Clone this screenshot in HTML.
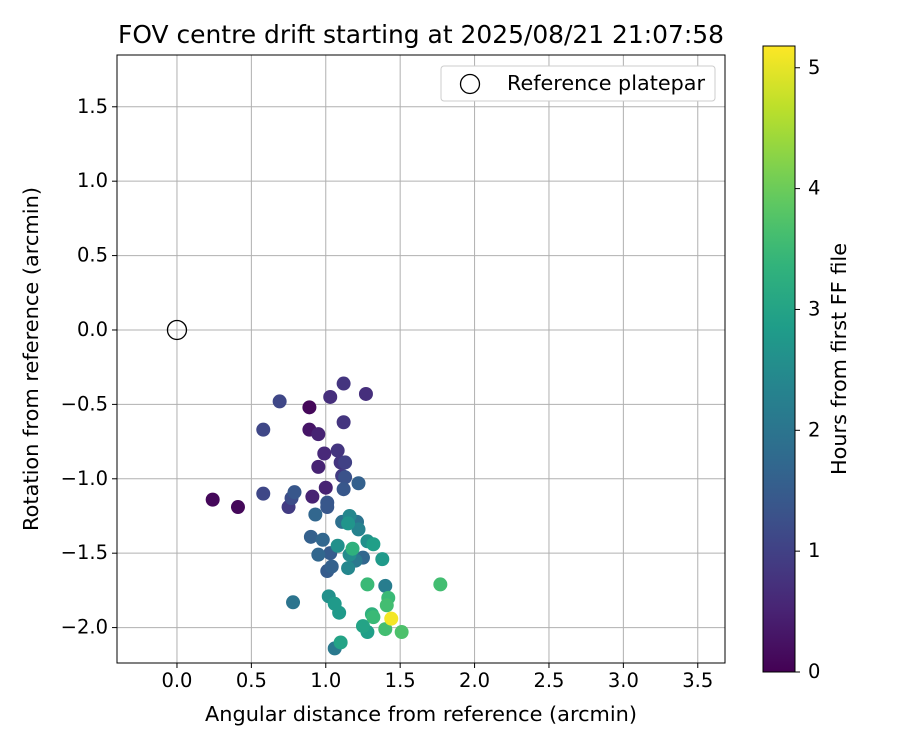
<!DOCTYPE html>
<html><head><meta charset="utf-8"><style>
body{margin:0;background:#fff;}
svg text{font-family:"DejaVu Sans","Liberation Sans",sans-serif;fill:#000;}
</style></head><body>
<svg id="chart" width="900" height="750" xmlns="http://www.w3.org/2000/svg">
<rect width="900" height="750" fill="#fff"/>
<g id="grid"></g>
<g id="points"></g>
<rect x="117" y="55" width="608" height="608" fill="none" stroke="#000" stroke-width="1"/>
<g id="xticks"></g>
<g id="yticks"></g>
<text x="421" y="43" font-size="25" text-anchor="middle" textLength="606" lengthAdjust="spacingAndGlyphs">FOV centre drift starting at 2025/08/21 21:07:58</text>
<text x="421" y="721" font-size="20.5" text-anchor="middle" textLength="432" lengthAdjust="spacingAndGlyphs">Angular distance from reference (arcmin)</text>
<text transform="translate(38,359) rotate(-90)" font-size="20.5" text-anchor="middle" textLength="344" lengthAdjust="spacingAndGlyphs">Rotation from reference (arcmin)</text>
<g>
<rect x="441" y="66" width="274" height="35" rx="3" fill="#fff" stroke="#ccc"/>
<circle cx="470" cy="84" r="9.5" fill="none" stroke="#000" stroke-width="1.3"/>
<text x="507" y="90" font-size="20.5" textLength="198" lengthAdjust="spacingAndGlyphs">Reference platepar</text>
</g>
<defs><linearGradient id="vir" x1="0" y1="1" x2="0" y2="0"></linearGradient></defs>
<rect x="763" y="46" width="32" height="626" fill="url(#vir)" stroke="#000" stroke-width="1"/>
<g id="cticks"></g>
<text transform="translate(846,359) rotate(-90)" font-size="20.5" text-anchor="middle" textLength="232" lengthAdjust="spacingAndGlyphs">Hours from first FF file</text>
</svg>
<script>
const xVals=[1.12,1.03,1.27,0.69,0.89,0.58,1.12,0.89,0.95,0.99,1.08,1.13,1.10,0.95,1.11,1.13,1.22,1.00,1.12,0.24,0.41,0.58,0.79,0.77,0.75,0.91,1.01,1.01,0.93,1.16,1.11,1.21,1.15,1.22,0.90,0.98,1.08,1.18,1.28,1.32,0.95,1.03,1.16,1.25,1.20,1.38,1.04,1.01,1.15,1.28,1.40,1.77,1.42,1.41,0.78,1.02,1.06,1.09,1.31,1.32,1.44,1.25,1.28,1.40,1.51,1.06,1.10];
const yVals=[-0.36,-0.45,-0.43,-0.48,-0.52,-0.67,-0.62,-0.67,-0.70,-0.83,-0.81,-0.89,-0.89,-0.92,-0.98,-0.99,-1.03,-1.06,-1.07,-1.14,-1.19,-1.10,-1.09,-1.13,-1.19,-1.12,-1.16,-1.19,-1.24,-1.25,-1.29,-1.29,-1.30,-1.34,-1.39,-1.41,-1.45,-1.47,-1.42,-1.44,-1.51,-1.50,-1.51,-1.53,-1.55,-1.54,-1.59,-1.62,-1.60,-1.71,-1.72,-1.71,-1.80,-1.85,-1.83,-1.79,-1.84,-1.90,-1.91,-1.93,-1.94,-1.99,-2.03,-2.01,-2.03,-2.14,-2.10];
const hours=[0.8,0.7,0.7,1.1,0.1,1.1,0.8,0.3,0.5,0.6,0.8,1.0,0.8,0.5,0.9,1.3,1.6,0.5,1.4,0.1,0.1,1.1,1.4,1.2,0.9,0.5,1.4,1.4,1.7,2.4,1.9,2.0,2.7,2.3,1.6,1.7,2.6,3.3,2.6,2.9,1.7,1.5,2.5,1.7,2.1,2.8,1.6,1.5,2.4,3.5,2.2,3.6,3.5,3.6,2.0,2.6,2.8,2.8,3.3,3.5,5.1,3.0,2.9,3.6,3.7,2.1,3.0];
const xTicks=[0.0,0.5,1.0,1.5,2.0,2.5,3.0,3.5];
const yTicks=[-2.0,-1.5,-1.0,-0.5,0.0,0.5,1.0,1.5];
const cTicks=[0,1,2,3,4,5];
const X0=117,X1=725,Y0=55,Y1=663,xMin=-0.403,xMax=3.683,yMin=-2.238,yMax=1.848,cMax=5.18;
const sx=v=>X0+(v-xMin)/(xMax-xMin)*(X1-X0);
const sy=v=>Y1-(v-yMin)/(yMax-yMin)*(Y1-Y0);
const sc=v=>672-v/cMax*626;
const vir=[[68,1,84],[72,40,120],[62,74,137],[49,104,142],[38,130,142],[31,158,137],[53,183,121],[109,205,89],[180,222,44],[253,231,37]];
function cmap(t){t=Math.max(0,Math.min(1,t));const f=t*(vir.length-1),i=Math.min(vir.length-2,Math.floor(f)),r=f-i;const c=vir[i].map((a,k)=>Math.round(a+(vir[i+1][k]-a)*r));return `rgb(${c[0]},${c[1]},${c[2]})`;}
const NS="http://www.w3.org/2000/svg";
function mk(t,a,p){const e=document.createElementNS(NS,t);for(const k in a)e.setAttribute(k,a[k]);p.appendChild(e);return e;}
const grad=document.getElementById('vir');
for(let i=0;i<=20;i++){mk('stop',{offset:i/20,'stop-color':cmap(i/20)},grad);}
const g=document.getElementById('grid'),xt=document.getElementById('xticks'),yt=document.getElementById('yticks'),ct=document.getElementById('cticks');
xTicks.forEach(v=>{const x=sx(v);
const l=mk('line',{x1:x,x2:x,y1:Y0,y2:Y1,stroke:'#b0b0b0','stroke-width':1},g);


mk('line',{x1:x,x2:x,y1:Y1,y2:Y1+5,stroke:'#000'},xt);
const t=mk('text',{x:x,y:Y1+24,'font-size':19.5,'text-anchor':'middle'},xt);t.textContent=v.toFixed(1);

});
yTicks.forEach(v=>{const y=sy(v);
const l=mk('line',{x1:X0,x2:X1,y1:y,y2:y,stroke:'#b0b0b0','stroke-width':1},g);


mk('line',{x1:X0-5,x2:X0,y1:y,y2:y,stroke:'#000'},yt);
const t=mk('text',{x:X0-9,y:y+6,'font-size':19.5,'text-anchor':'end'},yt);t.textContent=(v<0?'\u2212':'')+Math.abs(v).toFixed(1);

});
cTicks.forEach(v=>{const y=sc(v);
mk('line',{x1:795,x2:800,y1:y,y2:y,stroke:'#000'},ct);
const t=mk('text',{x:808,y:y+6,'font-size':19.5},ct);t.textContent=v;

});
const pts=document.getElementById('points');
const idx=hours.map((h,i)=>i).sort((a,b)=>hours[a]-hours[b]);
idx.forEach(i=>{const c=mk('circle',{cx:sx(xVals[i]),cy:sy(yVals[i]),r:7,fill:cmap(hours[i]/cMax)},pts);

});
const ref=mk('circle',{cx:sx(0),cy:sy(0),r:9.5,fill:'none',stroke:'#000','stroke-width':1.3},pts);


</script>
</body></html>
